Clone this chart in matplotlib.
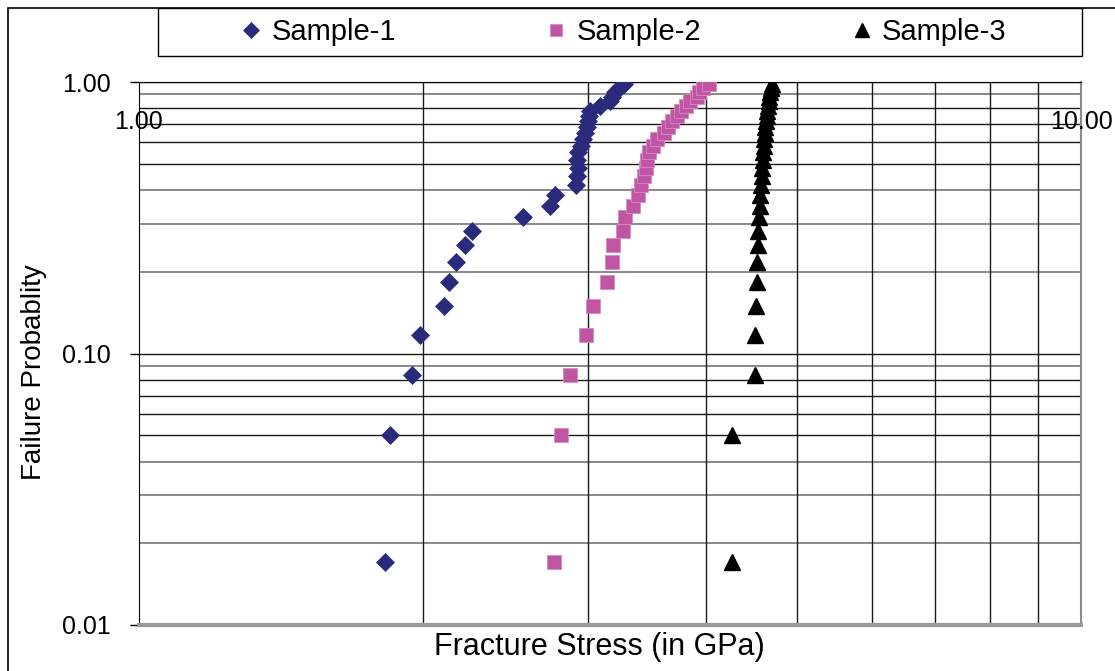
import matplotlib
matplotlib.use('Agg')
import matplotlib.pyplot as plt
from matplotlib.ticker import NullLocator
from matplotlib.patches import Rectangle

plt.rcParams['font.family'] = ['Liberation Sans', 'DejaVu Sans']

# failure probability (median ranks, 30 specimens per sample)
prob = [0.017, 0.050, 0.083, 0.117, 0.150, 0.183, 0.217, 0.250, 0.283, 0.317,
        0.350, 0.383, 0.417, 0.450, 0.483, 0.517, 0.550, 0.583, 0.617, 0.650,
        0.683, 0.717, 0.750, 0.783, 0.817, 0.850, 0.883, 0.917, 0.950, 0.983]

# fracture stress in GPa, sorted
sample1 = [1.824, 1.847, 1.949, 1.987, 2.108, 2.134, 2.170, 2.219, 2.257, 2.557,
           2.731, 2.765, 2.910, 2.917, 2.924, 2.917, 2.924, 2.946, 2.960, 2.975,
           2.989, 2.997, 3.004, 3.011, 3.086, 3.162, 3.178, 3.201, 3.233, 3.272]
sample2 = [2.758, 2.806, 2.868, 2.982, 3.034, 3.139, 3.178, 3.186, 3.265, 3.281,
           3.346, 3.387, 3.412, 3.437, 3.453, 3.462, 3.479, 3.513, 3.547, 3.608,
           3.644, 3.680, 3.725, 3.762, 3.808, 3.845, 3.911, 3.930, 3.969, 4.027]
sample3 = [4.262, 4.262, 4.508, 4.508, 4.519, 4.530, 4.530, 4.541, 4.541, 4.552,
           4.564, 4.564, 4.575, 4.586, 4.586, 4.597, 4.597, 4.608, 4.608, 4.619,
           4.619, 4.631, 4.642, 4.642, 4.653, 4.665, 4.665, 4.676, 4.687, 4.699]

y_grid = [0.02, 0.03, 0.04, 0.05, 0.06, 0.07, 0.08, 0.09, 0.1,
          0.2, 0.3, 0.4, 0.5, 0.6, 0.7, 0.8, 0.9, 1.0]
y_grid_light = [0.02, 0.03, 0.04, 0.09, 0.2, 0.3, 0.4, 0.9]
x_grid = [2, 3, 4, 5, 6, 7, 8, 9]

fig = plt.figure(figsize=(11.15, 6.71), dpi=100)
ax = fig.add_axes([139/1115, 1-625/671, 942/1115, 543/671])

ax.set_xscale('log')
ax.set_yscale('log')
ax.set_xlim(1, 10)
ax.set_ylim(0.01, 1.0)

# grid lines
for v in y_grid:
    if v in y_grid_light:
        ax.axhline(v, color='#808080', lw=1.3, zorder=1)
    else:
        ax.axhline(v, color='#1a1a1a', lw=1.0, zorder=1)
for v in x_grid:
    ax.axvline(v, color='#1a1a1a', lw=1.0, zorder=1)

ax.plot(sample1, prob, ls='none', marker='D', ms=9, color='#2B2B7D',
        mec='#2B2B7D', mew=0.5, label='Sample-1', zorder=3)
ax.plot(sample2, prob, ls='none', marker='s', ms=10, color='#BF55A3',
        mec='#D68BC3', mew=0.6, label='Sample-2', zorder=3)
ax.plot(sample3, prob, ls='none', marker='^', ms=12, color='black',
        label='Sample-3', zorder=3)

# axes ticks
ax.xaxis.set_major_locator(NullLocator())
ax.xaxis.set_minor_locator(NullLocator())
ax.yaxis.set_minor_locator(NullLocator())
ax.set_yticks([0.01, 0.1, 1.0], labels=['0.01', '0.10', '1.00'])
ax.tick_params(axis='y', which='major', length=6.5, width=1, pad=14, labelsize=18)

# x labels sit under the top edge
for xv, txt in [(1, '1.00'), (10, '10.00')]:
    ax.text(xv, (625-122)/543, txt, transform=ax.get_xaxis_transform(),
            ha='center', va='center', fontsize=18, zorder=4)

ax.spines['left'].set_color('black')
ax.spines['top'].set_color('black')
ax.spines['right'].set_color('#8c8c8c')
ax.spines['right'].set_linewidth(1.5)
ax.spines['bottom'].set_color('#9a9a9a')
ax.spines['bottom'].set_linewidth(3)

ax.set_xlabel('Fracture Stress (in GPa)', fontsize=22)
ax.xaxis.set_label_coords(0.489, -0.012)
ax.set_ylabel('Failure Probablity', fontsize=20)
ax.yaxis.set_label_coords(-0.098, 0.466)

# legend box across the top
fig.patches.append(Rectangle((158/1115, 1-56/671), 924/1115, 48/671,
                             transform=fig.transFigure, fill=False,
                             edgecolor='black', lw=1))
fig.legend(loc='center', bbox_to_anchor=(623/1115, 1-32/671), ncol=3,
           frameon=False, fontsize=21, handlelength=0.8, handletextpad=0.3,
           columnspacing=5.1, markerscale=0.85)

# outer chart border
fig.patches.append(Rectangle((8/1115, -0.1), 1.2, 1.1 - 8/671,
                             transform=fig.transFigure, fill=False,
                             edgecolor='black', lw=1.2))

fig.savefig('out.png', dpi=100)
